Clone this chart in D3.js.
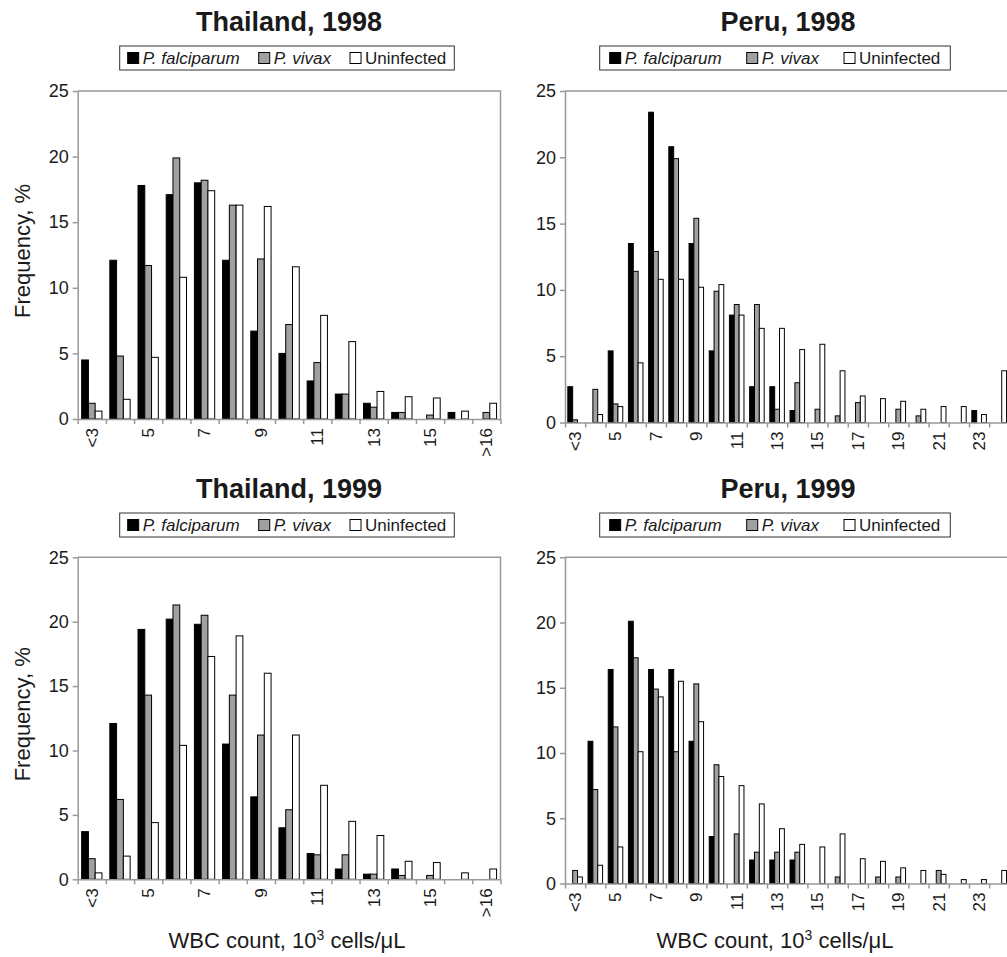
<!DOCTYPE html>
<html>
<head>
<meta charset="utf-8">
<script src="https://cdn.jsdelivr.net/npm/d3@7"></script>
<style>
  body { margin: 0; background: #fff; }
  text { font-family: "Liberation Sans", Arial, sans-serif; fill: #1a1a1a; }
</style>
</head>
<body>
<svg id="chart" width="1007" height="957"></svg>
<script>
// series + categories
const series = ["P. falciparum", "P. vivax", "Uninfected"];
const seriesFill = ["#000", "#a0a0a0", "#fff"];

const thaiCats = ["<3", "4", "5", "6", "7", "8", "9", "10", "11", "12", "13", "14", "15", "16", ">16"];
const peruCats = ["<3", "4", "5", "6", "7", "8", "9", "10", "11", "12", "13", "14", "15", "16",
  "17", "18", "19", "20", "21", "22", "23", ">23"];

const yTicks = [0, 5, 10, 15, 20, 25];

// frequencies, %
const thai98Falc  = [4.5, 12.1, 17.8, 17.1, 18.0, 12.1, 6.7, 5.0, 2.9, 1.9, 1.2, 0.5, 0, 0.5, 0];
const thai98Viv   = [1.2, 4.8, 11.7, 19.9, 18.2, 16.3, 12.2, 7.2, 4.3, 1.9, 0.9, 0.5, 0.3, 0, 0.5];
const thai98Uninf = [0.6, 1.5, 4.7, 10.8, 17.4, 16.3, 16.2, 11.6, 7.9, 5.9, 2.1, 1.7, 1.6, 0.6, 1.2];

const thai99Falc  = [3.7, 12.1, 19.4, 20.2, 19.8, 10.5, 6.4, 4.0, 2.0, 0.8, 0.4, 0.8, 0, 0, 0];
const thai99Viv   = [1.6, 6.2, 14.3, 21.3, 20.5, 14.3, 11.2, 5.4, 1.9, 1.9, 0.4, 0.3, 0.3, 0, 0];
const thai99Uninf = [0.5, 1.8, 4.4, 10.4, 17.3, 18.9, 16.0, 11.2, 7.3, 4.5, 3.4, 1.4, 1.3, 0.5, 0.8];

const peru98Falc  = [2.7, 0, 5.4, 13.5, 23.4, 20.8, 13.5, 5.4, 8.1, 2.7, 2.7, 0.9, 0, 0, 0, 0, 0, 0, 0, 0, 0.9, 0];
const peru98Viv   = [0.2, 2.5, 1.4, 11.4, 12.9, 19.9, 15.4, 9.9, 8.9, 8.9, 1.0, 3.0, 1.0, 0.5, 1.5, 0, 1.0, 0.5, 0, 0, 0, 0];
const peru98Uninf = [0, 0.6, 1.2, 4.5, 10.8, 10.8, 10.2, 10.4, 8.1, 7.1, 7.1, 5.5, 5.9, 3.9, 2.0, 1.8, 1.6, 1.0, 1.2, 1.2, 0.6, 3.9];

const peru99Falc  = [0, 10.9, 16.4, 20.1, 16.4, 16.4, 10.9, 3.6, 0, 1.8, 1.8, 1.8, 0, 0, 0, 0, 0, 0, 0, 0, 0, 0];
const peru99Viv   = [1.0, 7.2, 12.0, 17.3, 14.9, 10.1, 15.3, 9.1, 3.8, 2.4, 2.4, 2.4, 0, 0.5, 0, 0.5, 0.5, 0, 1.0, 0, 0, 0];
const peru99Uninf = [0.5, 1.4, 2.8, 10.1, 14.3, 15.5, 12.4, 8.2, 7.5, 6.1, 4.2, 3.0, 2.8, 3.8, 1.9, 1.7, 1.2, 1.0, 0.7, 0.3, 0.3, 1.0];

const panels = [
  { title: "Thailand, 1998", cats: thaiCats, values: [thai98Falc, thai98Viv, thai98Uninf],
    left: 77.7, right: 500.5, top: 91, bottom: 419, titleX: 289, titleY: 31, legendX: 287, legendY: 46, gap: 19, pad: 8, ylabel: true, xlabel: false },
  { title: "Peru, 1998", cats: peruCats, values: [peru98Falc, peru98Viv, peru98Uninf],
    left: 565, right: 1009.4, top: 91, bottom: 422.5, titleX: 788, titleY: 31, legendX: 775, legendY: 46, gap: 25, pad: 10, ylabel: false, xlabel: false },
  { title: "Thailand, 1999", cats: thaiCats, values: [thai99Falc, thai99Viv, thai99Uninf],
    left: 77.7, right: 500.5, top: 557.3, bottom: 879.3, titleX: 289, titleY: 498, legendX: 287, legendY: 513, gap: 19, pad: 8, ylabel: true, xlabel: true },
  { title: "Peru, 1999", cats: peruCats, values: [peru99Falc, peru99Viv, peru99Uninf],
    left: 565, right: 1009.4, top: 557.3, bottom: 883.5, titleX: 788, titleY: 498, legendX: 775, legendY: 513, gap: 25, pad: 10, ylabel: false, xlabel: true }
];

const svg = d3.select("#chart");
const frameColor = "#999";

function drawPanel(p) {
  const g = svg.append("g");

  const x0 = d3.scaleBand().domain(p.cats).range([p.left, p.right])
    .paddingInner(0.28).paddingOuter(0.14);
  const x1 = d3.scaleBand().domain(series).range([0, x0.bandwidth()]);
  const y = d3.scaleLinear().domain([0, 25]).range([p.bottom, p.top]);
  const xi = d3.scaleLinear().domain([0, p.cats.length]).range([p.left, p.right]);

  // frame (top + right)
  g.append("path")
    .attr("d", `M${p.left},${p.top}H${p.right}V${p.bottom}`)
    .attr("fill", "none").attr("stroke", frameColor).attr("stroke-width", 1.5);

  // bars
  const rows = p.cats.map((c, i) => series.map((s, j) => ({ c, s, j, v: p.values[j][i] })));
  g.append("g").selectAll("g")
    .data(rows)
    .join("g")
    .attr("transform", d => `translate(${x0(d[0].c)},0)`)
    .selectAll("rect")
    .data(d => d.filter(e => e.v > 0))
    .join("rect")
    .attr("x", d => x1(d.s))
    .attr("width", x1.bandwidth())
    .attr("y", d => y(d.v))
    .attr("height", d => y(0) - y(d.v))
    .attr("fill", d => seriesFill[d.j])
    .attr("stroke", "#000")
    .attr("stroke-width", 1);

  // y axis
  const ya = g.append("g")
    .attr("transform", `translate(${p.left},0)`)
    .call(d3.axisLeft(y).tickValues(yTicks).tickSize(5).tickSizeOuter(0).tickPadding(4));
  ya.select(".domain").attr("stroke", frameColor).attr("stroke-width", 1.5);
  ya.selectAll(".tick line").attr("stroke", frameColor).attr("stroke-width", 1.5);
  ya.selectAll(".tick text").style("font-size", "18px").attr("fill", "#1a1a1a");

  // x axis: boundary ticks
  const xa = g.append("g")
    .attr("transform", `translate(0,${p.bottom})`)
    .call(d3.axisBottom(xi).tickValues(d3.range(p.cats.length + 1)).tickFormat("").tickSize(5).tickSizeOuter(0));
  xa.select(".domain").attr("stroke", frameColor).attr("stroke-width", 1.5);
  xa.selectAll(".tick line").attr("stroke", frameColor).attr("stroke-width", 1.5);

  // x axis: category labels, every other one, rotated
  const xl = g.append("g")
    .attr("transform", `translate(0,${p.bottom})`)
    .call(d3.axisBottom(x0).tickSize(0).tickFormat((d, i) => i % 2 === 0 ? d : ""));
  xl.select(".domain").remove();
  xl.selectAll(".tick text")
    .attr("transform", "rotate(-90)")
    .attr("x", -9).attr("y", 0).attr("dy", "0.35em")
    .style("text-anchor", "end")
    .style("font-size", "17px")
    .attr("fill", "#1a1a1a");

  // title
  g.append("text")
    .attr("x", p.titleX).attr("y", p.titleY)
    .attr("text-anchor", "middle")
    .style("font-size", "27px").style("font-weight", "bold")
    .text(p.title);

  // legend
  const lg = g.append("g");
  const box = lg.append("rect").attr("fill", "#fff").attr("stroke", "#333").attr("stroke-width", 1);
  let cx = 0;
  series.forEach((s, j) => {
    const it = lg.append("g").attr("transform", `translate(${cx},0)`);
    it.append("rect").attr("x", 0).attr("y", -11.5).attr("width", 11).attr("height", 11)
      .attr("fill", seriesFill[j]).attr("stroke", "#000").attr("stroke-width", 1);
    const t = it.append("text").attr("x", 15).attr("y", 0)
      .style("font-size", "17px")
      .style("font-style", j < 2 ? "italic" : "normal")
      .text(s);
    cx += 15 + t.node().getComputedTextLength() + p.gap;
  });
  const w = cx - p.gap;
  lg.attr("transform", `translate(${p.legendX - w / 2},${p.legendY + 18})`);
  box.attr("x", -p.pad).attr("y", -18).attr("width", w + 2 * p.pad).attr("height", 24);

  if (p.ylabel) {
    g.append("text")
      .attr("transform", `translate(30,${(p.top + p.bottom) / 2 - 4}) rotate(-90)`)
      .attr("text-anchor", "middle")
      .style("font-size", "22px")
      .text("Frequency, %");
  }
  if (p.xlabel) {
    const t = g.append("text")
      .attr("x", p.legendX).attr("y", 948)
      .attr("text-anchor", "middle")
      .style("font-size", "22px");
    t.append("tspan").text("WBC count, 10");
    t.append("tspan").attr("dy", -8).style("font-size", "14px").text("3");
    t.append("tspan").attr("dy", 8).text(" cells/μL");
  }
}

panels.forEach(drawPanel);
</script>
</body>
</html>
